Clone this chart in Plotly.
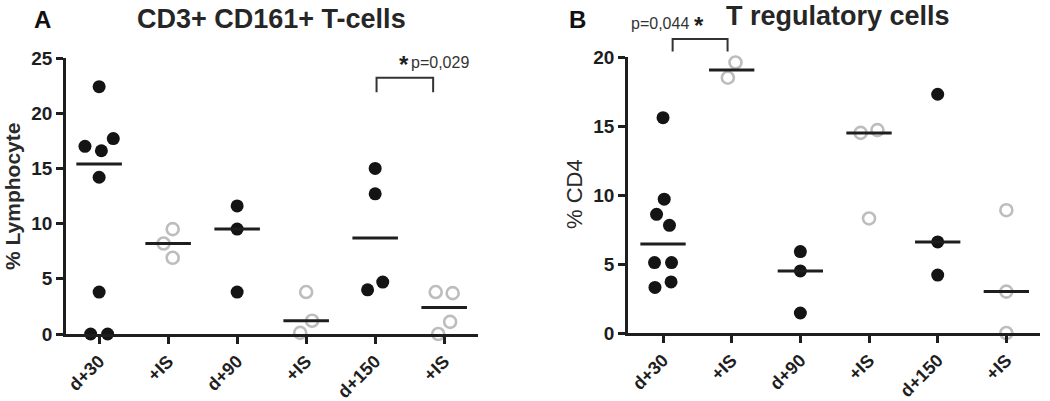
import numpy as np
import plotly.graph_objects as go

# ---------------- data ----------------
categories = ["d+30", "+IS", "d+90", "+IS", "d+150", "+IS"]
is_group = [False, True, False, True, False, True]

# Panel A: CD3+ CD161+ T-cells (% Lymphocyte)
a_values = [
    [22.4, 16.6, 17.0, 17.7, 14.2, 3.8, 0.0, 0.0],
    [9.5, 8.2, 6.9],
    [11.6, 9.5, 3.8],
    [3.8, 1.2, 0.1],
    [15.0, 12.7, 4.7, 4.0],
    [3.7, 3.8, 1.1, 0.0],
]
# Panel B: T regulatory cells (% CD4)
b_values = [
    [15.6, 9.7, 8.6, 7.8, 5.1, 5.1, 3.7, 3.3],
    [19.6, 18.5],
    [5.9, 4.5, 1.45],
    [14.7, 14.5, 8.3],
    [17.3, 6.6, 4.2],
    [8.9, 3.0, 0.0],
]
a_yticks = [0, 5, 10, 15, 20, 25]
b_yticks = [0, 5, 10, 15, 20]

# ---------------- layout geometry ----------------
W, H = 1050, 401
A_XDOM = [66 / W, 478 / W]
A_YDOM = [(H - 334) / H, (H - 58) / H]
B_XDOM = [628 / W, 1040 / W]
B_YDOM = [(H - 333) / H, (H - 57) / H]
A_XR = [-0.48, 5.49]
B_XR = [-0.51, 5.49]
A_YR = [0, 25]
B_YR = [0, 20]

FONT = "Liberation Sans, Arial, Helvetica, sans-serif"
DARK = "#1e1e1e"
OPEN = "#bdbdbd"


def swarm(vals, xdom, xr, ydom, yr, D=17.0):
    ppu = (ydom[1] - ydom[0]) * H / (yr[1] - yr[0])
    ppi = (xdom[1] - xdom[0]) * W / (xr[1] - xr[0])
    ys = [v * ppu for v in vals]
    dxs = []
    for i, y in enumerate(ys):
        cands = {0.0}
        for j in range(i):
            dy = abs(y - ys[j])
            if dy < D:
                s = np.sqrt(D * D - dy * dy)
                cands.add(dxs[j] + s)
                cands.add(dxs[j] - s)
        best = 0.0
        for c in sorted(cands, key=lambda c: (abs(c), c)):
            if all(np.hypot(c - dxs[j], y - ys[j]) >= D - 1e-6 for j in range(i)):
                best = c
                break
        dxs.append(best)
    order = sorted(range(len(ys)), key=lambda k: ys[k])
    comps, cur = [], [order[0]]
    for k in order[1:]:
        if ys[k] - ys[cur[-1]] < D:
            cur.append(k)
        else:
            comps.append(cur)
            cur = [k]
    comps.append(cur)
    out = list(dxs)
    for c in comps:
        sh = -(min(dxs[k] for k in c) + max(dxs[k] for k in c)) / 2
        for k in c:
            out[k] = dxs[k] + sh
    return [o / ppi for o in out]


fig = go.Figure()


def add_panel(values, xa, ya, xdom, xr, ydom, yr):
    for i, vals in enumerate(values):
        offs = swarm(vals, xdom, xr, ydom, yr)
        xs = [i + o for o in offs]
        if is_group[i]:
            marker = dict(symbol="circle-open", size=12, color=OPEN,
                          line=dict(width=2.6, color=OPEN))
        else:
            marker = dict(symbol="circle", size=13, color="#141414",
                          line=dict(width=0))
        fig.add_trace(go.Scatter(x=xs, y=vals, mode="markers", marker=marker,
                                 xaxis=xa, yaxis=ya, cliponaxis=False,
                                 showlegend=False, hoverinfo="y"))
        med = float(np.median(vals))
        fig.add_trace(go.Scatter(x=[i - 0.33, i + 0.33], y=[med, med], mode="lines",
                                 line=dict(color=DARK, width=3),
                                 xaxis=xa, yaxis=ya, cliponaxis=False,
                                 showlegend=False, hoverinfo="skip"))


add_panel(a_values, "x", "y", A_XDOM, A_XR, A_YDOM, A_YR)
add_panel(b_values, "x2", "y2", B_XDOM, B_XR, B_YDOM, B_YR)

axis_common = dict(showline=True, linewidth=2.5, linecolor=DARK, ticks="outside",
                   ticklen=7, tickwidth=2.5, tickcolor=DARK, showgrid=False,
                   zeroline=False, fixedrange=True, automargin=False)
xt = dict(tickmode="array", tickvals=list(range(len(categories))), ticktext=categories,
          tickangle=-45, tickfont=dict(family=FONT, size=18, color=DARK, weight="bold"))
yt_font = dict(family=FONT, size=19, color=DARK, weight="bold")

fig.update_layout(
    width=W, height=H, margin=dict(l=0, r=0, t=0, b=0, autoexpand=False),
    paper_bgcolor="white", plot_bgcolor="white", showlegend=False,
    xaxis=dict(domain=A_XDOM, range=A_XR, anchor="y", **xt, **axis_common),
    yaxis=dict(domain=A_YDOM, range=A_YR, anchor="x", tickvals=a_yticks,
               tickfont=yt_font, **axis_common),
    xaxis2=dict(domain=B_XDOM, range=B_XR, anchor="y2", **xt, **axis_common),
    yaxis2=dict(domain=B_YDOM, range=B_YR, anchor="x2", tickvals=b_yticks,
                tickfont=yt_font, **axis_common),
)


def dom(v, r):
    return (v - r[0]) / (r[1] - r[0])


def bracket(xa, ya, xr, yr, x0, x1, ytop, yb0, yb1):
    X0, X1 = dom(x0, xr), dom(x1, xr)
    T, B0, B1 = ytop / yr[1], yb0 / yr[1], yb1 / yr[1]
    fig.add_shape(type="path", xref=xa + " domain", yref=ya + " domain",
                  path=f"M {X0} {B0} L {X0} {T} L {X1} {T} L {X1} {B1}",
                  line=dict(color="#333333", width=2))


bracket("x", "y", A_XR, A_YR, 4.02, 4.84, 23.2, 21.9, 21.9)
bracket("x2", "y2", B_XR, B_YR, 0.14, 0.94, 21.3, 20.4, 20.4)


def label(xa, ya, xr, yr, x, y, text, size, color, xanchor):
    return dict(x=dom(x, xr), y=y / yr[1], xref=xa + " domain", yref=ya + " domain",
                text=text, showarrow=False, font=dict(family=FONT, size=size, color=color),
                xanchor=xanchor, yanchor="middle")


ann = [
    label("x", "y", A_XR, A_YR, 4.42, 24.45, "<b>*</b>", 24, DARK, "center"),
    label("x", "y", A_XR, A_YR, 4.49, 24.6, "p=0,029", 16, "#333333", "left"),
    label("x2", "y2", B_XR, B_YR, -0.495, 22.4, "p=0,044", 16, "#333333", "left"),
    label("x2", "y2", B_XR, B_YR, 0.53, 22.3, "<b>*</b>", 24, DARK, "center"),
]
# titles and panel letters
ann.append(dict(x=271 / W, y=1 - 19 / H, xref="paper", yref="paper",
                text="<b>CD3+ CD161+ T-cells</b>", showarrow=False,
                font=dict(family=FONT, size=27, color="#262626"), xanchor="center", yanchor="middle"))
ann.append(dict(x=838 / W, y=1 - 16 / H, xref="paper", yref="paper",
                text="<b>T regulatory cells</b>", showarrow=False,
                font=dict(family=FONT, size=27, color="#262626"), xanchor="center", yanchor="middle"))
ann.append(dict(x=42 / W, y=1 - 19 / H, xref="paper", yref="paper", text="<b>A</b>",
                showarrow=False, font=dict(family=FONT, size=24, color="#111111"),
                xanchor="center", yanchor="middle"))
ann.append(dict(x=577 / W, y=1 - 19 / H, xref="paper", yref="paper", text="<b>B</b>",
                showarrow=False, font=dict(family=FONT, size=24, color="#111111"),
                xanchor="center", yanchor="middle"))
# axis titles
ann.append(dict(x=13 / W, y=1 - 197 / H, xref="paper", yref="paper", text="<b>% Lymphocyte</b>",
                textangle=-90, showarrow=False, font=dict(family=FONT, size=21, color="#2a2a2a"),
                xanchor="center", yanchor="middle"))
ann.append(dict(x=574 / W, y=1 - 194 / H, xref="paper", yref="paper", text="% CD4",
                textangle=-90, showarrow=False, font=dict(family=FONT, size=22, color="#2a2a2a"),
                xanchor="center", yanchor="middle"))
fig.update_layout(annotations=ann)

fig.write_html("out.html", config={"displayModeBar": False},
               post_script="document.body.style.margin='0';document.body.style.overflow='hidden';")
